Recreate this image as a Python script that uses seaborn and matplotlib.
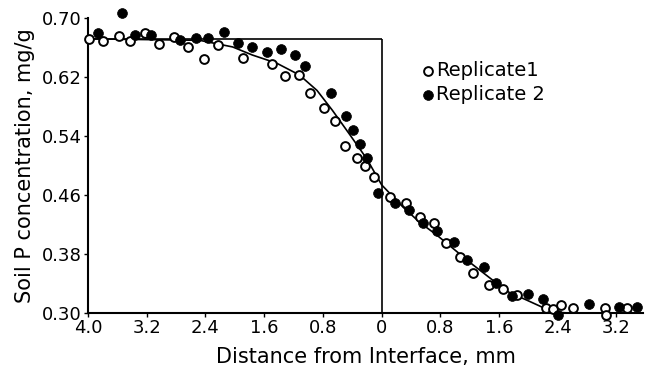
import seaborn as sns
import matplotlib.pyplot as plt
import pandas as pd
import numpy as np

# Replicate 1 (open circles), x < 0 is the soil side left of the interface
rep1_x = [-3.98, -3.80, -3.58, -3.43, -3.22, -3.03, -2.83, -2.64, -2.42, -2.23,
          -1.89, -1.50, -1.32, -1.12, -0.97, -0.79, -0.64, -0.50, -0.33, -0.23,
          -0.11, 0.12, 0.33, 0.52, 0.72, 0.88, 1.07, 1.25, 1.46, 1.66,
          1.84, 2.24, 2.34, 2.45, 2.61, 3.05, 3.06, 3.35]
rep1_y = [0.672, 0.669, 0.676, 0.669, 0.680, 0.665, 0.674, 0.661, 0.644, 0.663,
          0.646, 0.638, 0.621, 0.623, 0.598, 0.578, 0.560, 0.526, 0.510, 0.499,
          0.484, 0.457, 0.449, 0.430, 0.422, 0.395, 0.376, 0.354, 0.338, 0.333,
          0.324, 0.307, 0.305, 0.311, 0.307, 0.307, 0.297, 0.307]

# Replicate 2 (filled circles)
rep2_x = [-3.86, -3.54, -3.36, -3.14, -2.75, -2.53, -2.37, -2.15, -1.96, -1.77,
          -1.56, -1.37, -1.18, -1.05, -0.69, -0.49, -0.39, -0.29, -0.20, -0.05,
          0.18, 0.37, 0.56, 0.76, 0.98, 1.17, 1.40, 1.56, 1.78, 1.99,
          2.20, 2.40, 2.83, 3.24, 3.48]
rep2_y = [0.680, 0.707, 0.677, 0.677, 0.671, 0.673, 0.673, 0.681, 0.666, 0.661,
          0.654, 0.658, 0.650, 0.635, 0.598, 0.568, 0.548, 0.530, 0.510, 0.463,
          0.449, 0.440, 0.422, 0.411, 0.396, 0.372, 0.362, 0.341, 0.323, 0.326,
          0.319, 0.298, 0.313, 0.308, 0.308]

# fitted curve
curve_x = [-4.0, -2.48, -2.03, -1.76, -1.43, -1.12, -0.88, -0.67, -0.44, -0.20,
           0.0, 0.29, 0.52, 0.75, 0.97, 1.20, 1.51, 1.74, 1.97, 2.19, 2.38, 2.6, 3.56]
curve_y = [0.672, 0.670, 0.661, 0.650, 0.639, 0.623, 0.602, 0.575, 0.543, 0.509,
           0.474, 0.444, 0.423, 0.406, 0.388, 0.369, 0.345, 0.328, 0.318, 0.308,
           0.301, 0.300, 0.300]

c0 = 0.672  # initial concentration level (box top)

tick_pos = [-4.0, -3.2, -2.4, -1.6, -0.8, 0, 0.8, 1.6, 2.4, 3.2]
tick_lab = ["4.0", "3.2", "2.4", "1.6", "0.8", "0", "0.8", "1.6", "2.4", "3.2"]
ytick_pos = [0.30, 0.38, 0.46, 0.54, 0.62, 0.70]

r1 = pd.DataFrame({"x": rep1_x, "y": rep1_y})
r2 = pd.DataFrame({"x": rep2_x, "y": rep2_y})
cv = pd.DataFrame({"x": curve_x, "y": curve_y})

sns.set_style("ticks")
plt.rcParams['font.family'] = ['DejaVu Sans']
plt.rcParams['text.color'] = 'black'
plt.rcParams['axes.labelcolor'] = 'black'

fig = plt.figure(figsize=(6.52, 3.71), dpi=100)
ax = fig.add_axes([0.135, 0.156, 0.851, 0.795])

sns.lineplot(data=cv, x="x", y="y", ax=ax, color="black", lw=1.2, sort=False)
ax.hlines(c0, -4.0, 0, color="black", lw=1.2)
ax.vlines(0, 0.30, c0, color="black", lw=1.2)

sns.scatterplot(data=r1, x="x", y="y", ax=ax, marker="o", s=40, facecolor="white",
                edgecolor="black", linewidth=1.4, clip_on=False, zorder=3, label="Replicate1")
sns.scatterplot(data=r2, x="x", y="y", ax=ax, marker="o", s=50, color="black",
                edgecolor="black", linewidth=0.5, clip_on=False, zorder=3, label="Replicate 2")

ax.set_xlim(-4.0, 3.56)
ax.set_ylim(0.30, 0.70)
ax.set_xticks(tick_pos)
ax.set_xticklabels(tick_lab)
ax.set_yticks(ytick_pos)
ax.set_yticklabels([f"{v:.2f}" for v in ytick_pos])
ax.tick_params(labelsize=13, length=3, width=1, colors="black", pad=1.5)

sns.despine(ax=ax)
for s in ["left", "bottom"]:
    ax.spines[s].set_linewidth(1.5)
    ax.spines[s].set_color("black")

ax.set_xlabel("Distance from Interface, mm", fontsize=15, labelpad=7)
ax.set_ylabel("Soil P concentration, mg/g", fontsize=15, labelpad=5)

ax.legend(loc="upper left", bbox_to_anchor=(0.606, 0.855), frameon=False, fontsize=14,
          handlelength=0.4, handletextpad=0.2, labelspacing=0.25, borderpad=0,
          borderaxespad=0)

fig.savefig("out.png", dpi=100)
